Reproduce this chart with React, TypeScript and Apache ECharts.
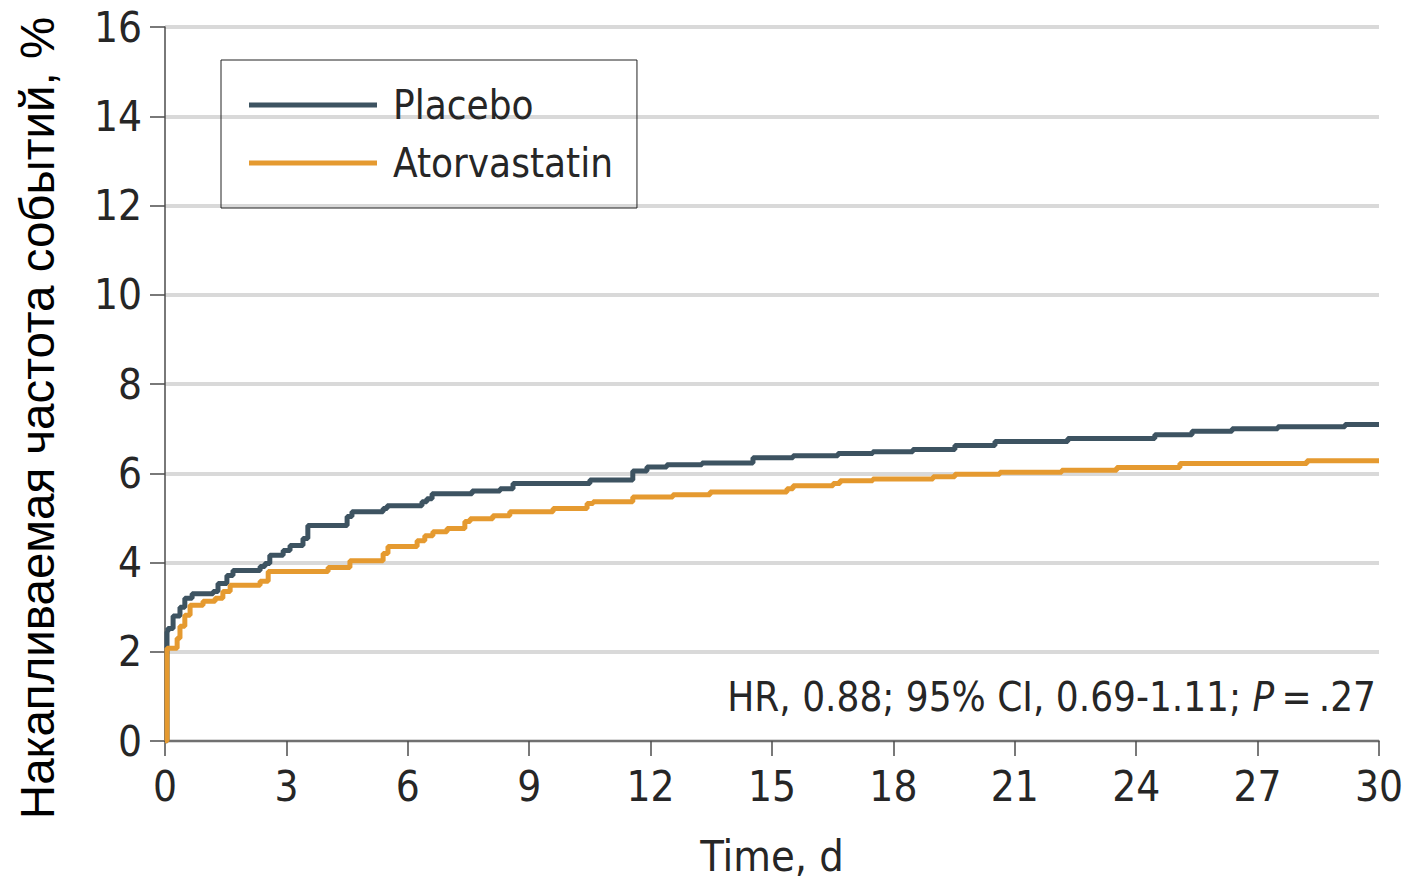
import React, { useEffect, useRef } from "react";
import * as echarts from "echarts";

const xTicks = [0, 3, 6, 9, 12, 15, 18, 21, 24, 27, 30];
const yTicks = [0, 2, 4, 6, 8, 10, 12, 14, 16];

const placebo: [number, number][] = [
  [0, 0], [0.05, 2.45], [0.07, 2.52], [0.2, 2.8], [0.37, 3.0], [0.49, 3.2], [0.67, 3.3],
  [1.19, 3.35], [1.31, 3.53], [1.53, 3.71], [1.68, 3.82], [2.35, 3.91], [2.47, 3.98],
  [2.59, 4.16], [2.92, 4.27], [3.09, 4.38], [3.41, 4.54], [3.53, 4.83], [4.5, 5.03],
  [4.62, 5.14], [5.39, 5.21], [5.49, 5.27], [6.35, 5.36], [6.47, 5.43], [6.6, 5.54],
  [7.59, 5.6], [8.28, 5.65], [8.6, 5.77], [10.5, 5.85], [11.56, 6.05], [11.91, 6.14],
  [12.4, 6.19], [13.27, 6.23], [14.53, 6.35], [15.52, 6.39], [16.63, 6.44], [17.49, 6.48],
  [18.48, 6.53], [19.52, 6.62], [20.51, 6.71], [22.31, 6.78], [24.46, 6.86], [25.38, 6.94],
  [26.37, 7.0], [27.5, 7.04], [29.16, 7.09], [30, 7.09],
];

const atorvastatin: [number, number][] = [
  [0, 0], [0.05, 2.08], [0.3, 2.3], [0.37, 2.57], [0.49, 2.82], [0.62, 3.04], [0.94, 3.13],
  [1.24, 3.2], [1.43, 3.35], [1.61, 3.49], [2.35, 3.58], [2.55, 3.8], [4.03, 3.89],
  [4.57, 4.04], [5.39, 4.2], [5.51, 4.36], [6.23, 4.49], [6.42, 4.6], [6.62, 4.69],
  [6.97, 4.76], [7.41, 4.92], [7.54, 4.98], [8.1, 5.05], [8.52, 5.14], [9.59, 5.21],
  [10.43, 5.32], [10.58, 5.36], [11.56, 5.47], [12.55, 5.52], [13.47, 5.58], [15.37, 5.65],
  [15.52, 5.72], [16.51, 5.77], [16.68, 5.83], [17.49, 5.87], [18.98, 5.92], [19.52, 5.98],
  [20.63, 6.02], [22.16, 6.07], [23.52, 6.13], [25.08, 6.22], [28.22, 6.28], [30, 6.28],
];

const seriesNames = ["Placebo", "Atorvastatin"];
const yAxisTitle = "Накапливаемая частота событий, %";
const xAxisTitle = "Time, d";

const COND = '"Liberation Sans Narrow", "DejaVu Sans Condensed", "Open Sans", sans-serif';
const TEXT = "#262626";
const AXIS = "#4d4d4d";

export default function App() {
  const ref = useRef<HTMLDivElement>(null);
  useEffect(() => {
    document.body.style.margin = "0";
    if (!ref.current) return;
    const chart = echarts.init(ref.current, null, { renderer: "svg" });
    chart.setOption({
      animation: false,
      backgroundColor: "#ffffff",
      grid: { left: 165, right: 28, top: 27, bottom: 139, containLabel: false },
      legend: {
        left: 221,
        top: 60,
        orient: "vertical",
        data: seriesNames,
        icon: "rect",
        itemWidth: 128,
        itemHeight: 5,
        itemGap: 18,
        padding: [25, 24, 25, 28],
        borderColor: "#222",
        borderWidth: 1,
        borderRadius: 0,
        textStyle: {
          fontFamily: COND,
          fontSize: 40,
          color: TEXT,
          padding: [0, 0, 0, 11],
        },
      },
      xAxis: {
        type: "value",
        min: 0,
        max: 30,
        interval: 3,
        name: xAxisTitle,
        nameLocation: "middle",
        nameGap: 93,
        nameTextStyle: { fontFamily: COND, fontSize: 43, color: TEXT },
        axisLine: { show: true, lineStyle: { color: AXIS, width: 1.5 } },
        axisTick: { show: true, length: 15, lineStyle: { color: AXIS, width: 1.5 } },
        axisLabel: {
          fontFamily: COND,
          fontSize: 42,
          color: TEXT,
          margin: 24,
          customValues: xTicks,
        },
        splitLine: { show: false },
      },
      yAxis: {
        type: "value",
        min: 0,
        max: 16,
        interval: 2,
        axisLine: { show: true, lineStyle: { color: AXIS, width: 1.5 } },
        axisTick: { show: true, length: 15, lineStyle: { color: AXIS, width: 1.5 } },
        axisLabel: {
          fontFamily: COND,
          fontSize: 42,
          color: TEXT,
          margin: 23,
          customValues: yTicks,
        },
        splitLine: { show: true, lineStyle: { color: "#d9d9d9", width: 4 } },
      },
      graphic: [
        {
          type: "text",
          x: 37,
          y: 418,
          rotation: Math.PI / 2,
          style: {
            text: yAxisTitle,
            fontFamily: '"Liberation Sans", Arial, sans-serif',
            fontSize: 47.5,
            fill: "#000",
            align: "center",
            verticalAlign: "middle",
          },
        },
        {
          type: "text",
          x: 1376,
          y: 697,
          style: {
            text: "{n|HR, 0.88; 95% CI, 0.69-1.11; }{i|P}{n|\u2009=\u2009.27}",
            align: "right",
            verticalAlign: "middle",
            rich: {
              n: { fontFamily: COND, fontSize: 40, fill: TEXT },
              i: { fontFamily: COND, fontSize: 40, fill: TEXT, fontStyle: "italic" },
            },
          },
        },
      ],
      series: [
        {
          name: seriesNames[0],
          type: "line",
          step: "end",
          data: placebo,
          symbol: "none",
          lineStyle: { color: "#3d5361", width: 5 },
          itemStyle: { color: "#3d5361" },
        },
        {
          name: seriesNames[1],
          type: "line",
          step: "end",
          data: atorvastatin,
          symbol: "none",
          lineStyle: { color: "#e59a30", width: 5 },
          itemStyle: { color: "#e59a30" },
        },
      ],
    });
    return () => chart.dispose();
  }, []);
  return <div ref={ref} style={{ width: 1407, height: 882 }} />;
}
